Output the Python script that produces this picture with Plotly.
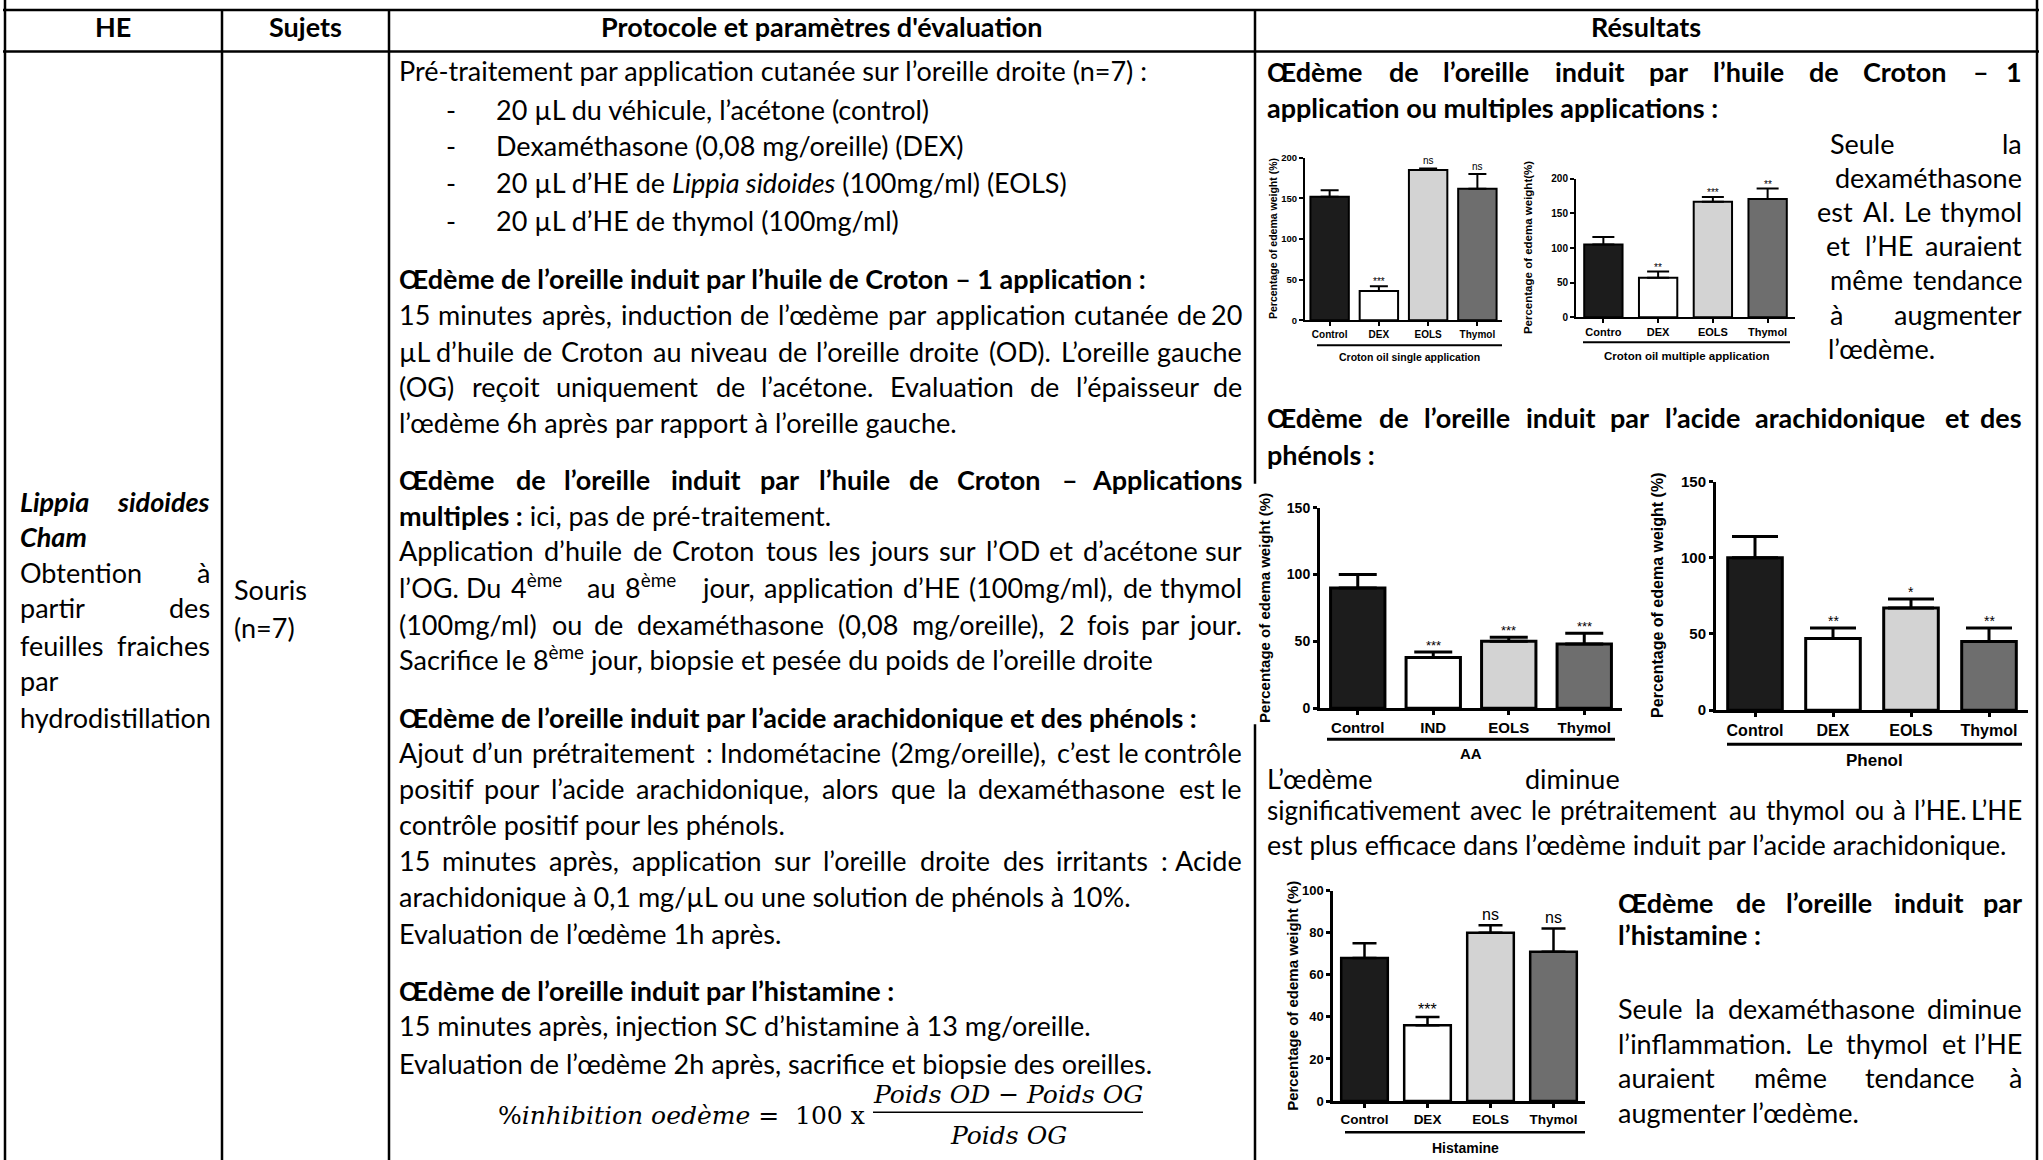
import unicodedata
import re
import plotly.graph_objects as go

W, H = 2043, 1160
# the photographed page comes out with a small white band above and below the figure,
# so vertical positions are pre-compensated (measured on a previous render)
Y_OFF, Y_SCALE = 10.5, 0.983
TEXT_FONT = "Lato"
CHART_FONT = "Liberation Sans"
TXT = 27

# ---- bar chart data ----
groups = ["Control", "DEX", "EOLS", "Thymol"]
groups_multi = ["Contro", "DEX", "EOLS", "Thymol"]
groups_aa = ["Control", "IND", "EOLS", "Thymol"]
bar_colors = ["#1c1c1c", "#ffffff", "#d3d3d3", "#6e6e6e"]

croton_single = [152, 36, 185, 162]
croton_single_err = [8, 6, 2, 18]
croton_single_sig = ["", "***", "ns", "ns"]

croton_multi = [105, 57, 167, 171]
croton_multi_err = [11, 9, 7, 15]
croton_multi_sig = ["", "**", "***", "**"]

aa_vals = [90, 38, 50, 48]
aa_err = [10, 4, 3, 8]
aa_sig = ["", "***", "***", "***"]

phenol_vals = [100, 47, 67, 45]
phenol_err = [14, 7, 6, 9]
phenol_sig = ["", "**", "*", "**"]

histamine_vals = [68, 36, 80, 71]
histamine_err = [7, 4, 3.5, 11]
histamine_sig = ["", "***", "ns", "ns"]

# approximate Lato advance widths (em), used to spread justified lines
LATO_EM = {
    "a": .51, "b": .57, "c": .46, "d": .57, "e": .53, "f": .33, "g": .51, "h": .57, "i": .24,
    "j": .24, "k": .51, "l": .24, "m": .85, "n": .57, "o": .56, "p": .57, "q": .57, "r": .38,
    "s": .43, "t": .36, "u": .57, "v": .52, "w": .79, "x": .50, "y": .52, "z": .46,
    "A": .68, "B": .63, "C": .66, "D": .74, "E": .56, "F": .54, "G": .71, "H": .75, "I": .27,
    "J": .38, "K": .66, "L": .49, "M": .89, "N": .75, "O": .79, "P": .59, "R": .62, "S": .52,
    "T": .60, "U": .72, "V": .68, "W": 1.0, "X": .65, "Y": .62, "Z": .60,
    ".": .21, ",": .21, ":": .23, ";": .23, "'": .20, "’": .20, "(": .31, ")": .31, "-": .34,
    "–": .50, "/": .38, "%": .78, "=": .58, "µ": .57, "œ": .88, "Œ": 1.05, "*": .40,
}


def px(x):
    return x / W


def py(y):
    return 1 - (y - Y_OFF) / Y_SCALE / H


fig = go.Figure()


def est_width(word, size, bold=False):
    plain = re.sub(r"<[^>]+>", "", word)
    em = 0.0
    for ch in plain:
        if ch.isdigit():
            em += 0.58
            continue
        base = unicodedata.normalize("NFD", ch)[0]
        em += LATO_EM.get(ch, LATO_EM.get(base, 0.55))
    return em * size * (1.04 if bold else 1.0)


def put(s, x, y, anchor="left", size=TXT, family=TEXT_FONT):
    fig.add_annotation(text=s, x=px(x), y=py(y + 0.5 * size + 5), xref="paper", yref="paper",
                       xanchor=anchor, yanchor="bottom", showarrow=False,
                       font=dict(family=family, size=size, color="black"))


def wrap(s, style):
    for t in reversed(style):
        s = f"<{t}>{s}</{t}>"
    return s


def line(s, y, x0, x1, mode="L", style="", size=TXT):
    if mode == "L":
        put(wrap(s, style), x0, y, size=size)
        return
    if mode == "R":
        put(wrap(s, style), x1, y, "right", size=size)
        return
    words = s.split()
    widths = [est_width(w, size, "b" in style) for w in words]
    gap = (x1 - x0 - sum(widths)) / (len(words) - 1)
    x = x0
    for i, w in enumerate(words):
        if i == len(words) - 1:
            put(wrap(w, style), x1, y, "right", size=size)
        else:
            put(wrap(w, style), x, y, "left", size=size)
        x += widths[i] + gap


def add_chart(n, cats, vals, errs, sigs, box, ymax, dtick, group, gline, ytitle, ytitle_x,
              fs, lw, cap, bw):
    xa, ya = ("x", "y") if n == 1 else (f"x{n}", f"y{n}")
    x0, x1, yb, yt = box
    tick_fs, ytick_fs, group_fs, title_fs, sig_fs = fs
    fig.add_trace(go.Bar(
        x=cats, y=vals, xaxis=xa, yaxis=ya, width=bw,
        marker=dict(color=bar_colors, line=dict(color="black", width=lw)),
        error_y=dict(type="data", array=errs, arrayminus=[0] * len(errs), symmetric=False,
                     color="black", thickness=lw, width=cap),
        showlegend=False, hoverinfo="skip"
    ))
    suffix = "" if n == 1 else str(n)
    fig.update_layout({
        f"xaxis{suffix}": dict(
            domain=[px(x0), px(x1)], anchor=ya, range=[-0.5, len(cats) - 0.5],
            showline=True, linecolor="black", linewidth=lw, showgrid=False, zeroline=False,
            ticks="outside", ticklen=4, tickwidth=lw, tickcolor="black",
            tickfont=dict(family=CHART_FONT, size=tick_fs, color="black", weight="bold")),
        f"yaxis{suffix}": dict(
            domain=[py(yb), py(yt)], anchor=xa, range=[0, ymax], dtick=dtick,
            showline=True, linecolor="black", linewidth=lw, showgrid=False, zeroline=False,
            ticks="outside", ticklen=4, tickwidth=lw, tickcolor="black",
            tickfont=dict(family=CHART_FONT, size=ytick_fs, color="black", weight="bold")),
    })
    for c, v, e, s in zip(cats, vals, errs, sigs):
        if s:
            fig.add_annotation(x=c, y=v + e, xref=xa, yref=ya, text=s, showarrow=False,
                               xanchor="center", yanchor="bottom",
                               yshift=-3 if "*" in s else 0,
                               font=dict(family=CHART_FONT, size=sig_fs, color="black"))
    g0, g1, gy, ly = gline
    fig.add_shape(type="line", xref="paper", yref="paper", x0=px(g0), x1=px(g1),
                  y0=py(gy), y1=py(gy), line=dict(color="black", width=lw))
    fig.add_annotation(text=group, x=px((g0 + g1) / 2), y=py(ly), xref="paper", yref="paper",
                       xanchor="center", yanchor="middle", showarrow=False,
                       font=dict(family=CHART_FONT, size=group_fs, color="black", weight="bold"))
    fig.add_annotation(text=ytitle, x=px(ytitle_x), y=py((yb + yt) / 2), xref="paper",
                       yref="paper", textangle=-90, xanchor="center", yanchor="middle",
                       showarrow=False,
                       font=dict(family=CHART_FONT, size=title_fs, color="black", weight="bold"))


add_chart(1, groups, croton_single, croton_single_err, croton_single_sig,
          (1305, 1502, 321, 159), 200, 50, "Croton oil single application",
          (1317, 1502, 346, 358), "Percentage of edema weight (%)", 1273,
          (10, 9.5, 10.5, 10.5, 10), 2, 9, 0.78)
add_chart(2, groups_multi, croton_multi, croton_multi_err, croton_multi_sig,
          (1576, 1795, 318, 180), 200, 50, "Croton oil multiple application",
          (1583, 1790, 343, 357), "Percentage of edema weight(%)", 1528,
          (11, 10, 11.5, 11.5, 10), 2, 11, 0.7)
add_chart(3, groups_aa, aa_vals, aa_err, aa_sig,
          (1320, 1622, 708, 508), 150, 50, "AA",
          (1327, 1615, 739, 753), "Percentage of edema weight (%)", 1265,
          (15, 14, 15, 15, 13), 3, 19, 0.72)
add_chart(4, groups, phenol_vals, phenol_err, phenol_sig,
          (1716, 2028, 710, 482), 150, 50, "Phenol",
          (1727, 2022, 744, 760), "Percentage of edema weight (%)", 1658,
          (16, 15, 17, 16, 14), 3, 23, 0.7)
add_chart(5, groups, histamine_vals, histamine_err, histamine_sig,
          (1333, 1585, 1100, 890), 100, 20, "Histamine",
          (1345, 1585, 1131, 1147), "Percentage of edema weight (%)", 1293,
          (13.5, 13, 14, 15, 16), 2.5, 12, 0.74)

# ---- table grid ----
for y in [11.5, 53]:
    fig.add_shape(type="line", xref="paper", yref="paper", x0=px(3), x1=px(2039),
                  y0=py(y), y1=py(y), line=dict(color="black", width=2.5))
for x, y0, y1 in [(5, 0, 1170), (222, 11.5, 1170), (389, 11.5, 1170), (1255, 11.5, 484),
                  (1255, 724, 1170), (2037, 0, 1170)]:
    fig.add_shape(type="line", xref="paper", yref="paper", x0=px(x), x1=px(x),
                  y0=py(y0), y1=py(y1), line=dict(color="black", width=2.5))

# ---- header ----
for label, xc in [("HE", 113), ("Sujets", 305), ("Protocole et paramètres d'évaluation", 822),
                  ("Résultats", 1646)]:
    put(f"<b>{label}</b>", xc, 28, "center")

# ---- HE / Sujets columns ----
L1, R1 = 18, 212
line("Lippia sidoides", 502, L1, R1, "J", "bi")
line("Cham", 537, L1, R1, "L", "bi")
line("Obtention à", 573, L1, R1, "J")
line("partir des", 608, L1, R1, "J")
line("feuilles fraiches", 645, L1, R1, "J")
line("par", 680, L1, R1)
line("hydrodistillation", 717, L1, R1)
put("Souris", 232, 590)
put("(n=7)", 232, 627)

# ---- protocol column ----
L3, R3 = 397, 1244
line("Pré-traitement par application cutanée sur l’oreille droite (n=7) :", 72, L3, R3)
for y, s in [(111, "20 µL du véhicule, l’acétone (control)"),
             (147, "Dexaméthasone (0,08 mg/oreille) (DEX)"),
             (184, "20 µL d’HE de <i>Lippia sidoides</i> (100mg/ml) (EOLS)"),
             (221, "20 µL d’HE de thymol (100mg/ml)")]:
    put("-", 451, y, "center")
    put(s, 494, y)

protocol = [
    (279, "Œdème de l’oreille induit par l’huile de Croton – 1 application :", "L", "b"),
    (315, "15 minutes après, induction de l’œdème par application cutanée de 20", "J", ""),
    (352, "µL d’huile de Croton au niveau de l’oreille droite (OD). L’oreille gauche", "J", ""),
    (387, "(OG) reçoit uniquement de l’acétone. Evaluation de l’épaisseur de", "J", ""),
    (423, "l’œdème 6h après par rapport à l’oreille gauche.", "L", ""),
    (480, "Œdème de l’oreille induit par l’huile de Croton – Applications", "J", "b"),
    (516, "<b>multiples :</b> ici, pas de pré-traitement.", "L", ""),
    (551, "Application d’huile de Croton tous les jours sur l’OD et d’acétone sur", "J", ""),
    (588, "l’OG. Du 4<sup>ème</sup> au 8<sup>ème</sup> jour, application d’HE (100mg/ml), de thymol", "J", ""),
    (624, "(100mg/ml) ou de dexaméthasone (0,08 mg/oreille), 2 fois par jour.", "J", ""),
    (659, "Sacrifice le 8<sup>ème</sup> jour, biopsie et pesée du poids de l’oreille droite", "L", ""),
    (717, "Œdème de l’oreille induit par l’acide arachidonique et des phénols :", "L", "b"),
    (752, "Ajout d’un prétraitement : Indométacine (2mg/oreille), c’est le contrôle", "J", ""),
    (788, "positif pour l’acide arachidonique, alors que la dexaméthasone est le", "J", ""),
    (824, "contrôle positif pour les phénols.", "L", ""),
    (860, "15 minutes après, application sur l’oreille droite des irritants : Acide", "J", ""),
    (896, "arachidonique à 0,1 mg/µL ou une solution de phénols à 10%.", "L", ""),
    (933, "Evaluation de l’œdème 1h après.", "L", ""),
    (990, "Œdème de l’oreille induit par l’histamine :", "L", "b"),
    (1025, "15 minutes après, injection SC d’histamine à 13 mg/oreille.", "L", ""),
    (1062, "Evaluation de l’œdème 2h après, sacrifice et biopsie des oreilles.", "L", ""),
]
for y, s, mode, style in protocol:
    line(s, y, L3, R3, mode, style)

# formula
put("%<i>inhibition oedème</i> =  100 x", 867, 1113, "right", 25, "DejaVu Serif")
put("<i>Poids OD</i> − <i>Poids OG</i>", 1008, 1092, "center", 25, "DejaVu Serif")
put("<i>Poids OG</i>", 1008, 1133, "center", 25, "DejaVu Serif")
fig.add_shape(type="line", xref="paper", yref="paper", x0=px(873), x1=px(1143),
              y0=py(1111), y1=py(1111), line=dict(color="black", width=1.5))

# ---- results column ----
L4, R4 = 1265, 2024
results = [
    (73, "Œdème de l’oreille induit par l’huile de Croton – 1", L4, R4, "J", "b"),
    (109, "application ou multiples applications :", L4, R4, "L", "b"),
    (145, "Seule la", 1828, R4, "J", ""),
    (179, "dexaméthasone", 1848, R4, "R", ""),
    (212, "est AI. Le thymol", 1815, R4, "J", ""),
    (246, "et l’HE auraient", 1824, R4, "J", ""),
    (280, "même tendance", 1828, R4, "J", ""),
    (315, "à augmenter", 1828, R4, "J", ""),
    (349, "l’œdème.", 1826, R4, "L", ""),
    (418, "Œdème de l’oreille induit par l’acide arachidonique et des", L4, R4, "J", "b"),
    (455, "phénols :", L4, R4, "L", "b"),
    (778, "L’œdème diminue", L4, 1622, "J", ""),
    (844, "est plus efficace dans l’œdème induit par l’acide arachidonique.", L4, R4, "L", ""),
    (902, "Œdème de l’oreille induit par", 1616, R4, "J", "b"),
    (934, "l’histamine :", 1616, R4, "L", "b"),
    (1008, "Seule la dexaméthasone diminue", 1616, R4, "J", ""),
    (1042, "l’inflammation. Le thymol et l’HE", 1616, R4, "J", ""),
    (1076, "auraient même tendance à", 1616, R4, "J", ""),
    (1111, "augmenter l’œdème.", 1616, R4, "L", ""),
]
for y, s, x0, x1, mode, style in results:
    line(s, y, x0, x1, mode, style)
# this justified line is a little too long at the body size
line("significativement avec le prétraitement au thymol ou à l’HE. L’HE", 810, L4, R4, "J",
     size=26)

fig.update_layout(
    width=W, height=H,
    margin=dict(l=0, r=0, t=0, b=0),
    paper_bgcolor="white", plot_bgcolor="white",
    showlegend=False,
)

# pin the figure to the top-left corner of the window (no body margin)
pin = ("document.body.style.margin = '0';"
       "var gd = document.getElementById('{plot_id}');"
       "gd.style.position = 'fixed'; gd.style.left = '0px'; gd.style.top = '0px';")
fig.write_html("out.html", post_script=pin, config={"displayModeBar": False})
